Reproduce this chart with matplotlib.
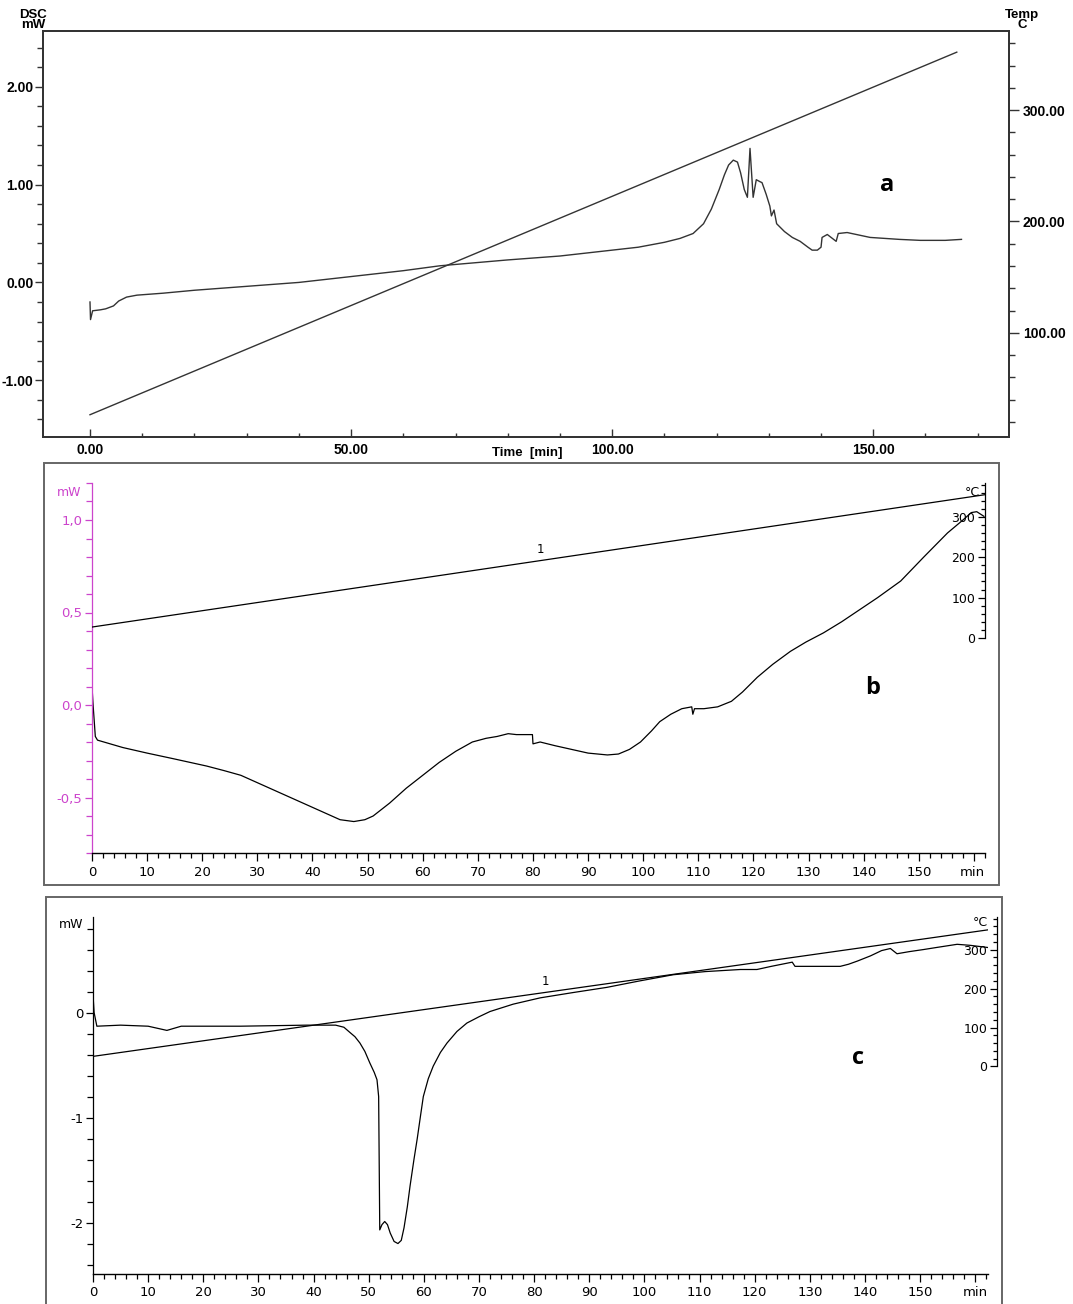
import matplotlib
matplotlib.use('Agg')
import matplotlib.pyplot as plt
import numpy as np
from matplotlib.ticker import MultipleLocator, FixedLocator, FuncFormatter
from matplotlib.patches import Rectangle

# ---- data ----
# panel a (DSC, mW) and temperature ramp (C)
a_time = [0, 0.1, 0.5, 2, 3, 4.5, 5.5, 7, 9, 14, 20, 30, 40, 50, 60, 67, 80,
          90, 100, 105, 110, 113, 115.5, 117.5, 119, 120.5, 121.5, 122.3,
          123.2, 124, 124.6, 125.3, 125.9, 126.4, 127, 127.6, 128.3, 128.7,
          129.5, 130.2, 130.5, 131, 131.5, 133, 134.5, 136, 137.5, 138.3,
          139.3, 140, 140.2, 141.2, 142.9, 143.3, 145, 149.4, 155, 159,
          163.8, 166.9]
a_dsc = [-0.2, -0.38, -0.29, -0.28, -0.27, -0.24, -0.19, -0.15, -0.13,
         -0.11, -0.08, -0.04, 0.0, 0.06, 0.12, 0.17, 0.23, 0.27, 0.33, 0.36,
         0.41, 0.45, 0.5, 0.6, 0.75, 0.95, 1.1, 1.2, 1.25, 1.23, 1.12, 0.95,
         0.87, 1.37, 0.87, 1.05, 1.03, 1.02, 0.9, 0.78, 0.68, 0.74, 0.6,
         0.52, 0.46, 0.42, 0.36, 0.33, 0.33, 0.36, 0.46, 0.49, 0.42, 0.5,
         0.51, 0.46, 0.44, 0.43, 0.43, 0.44]
a_temp_time = [0, 166]
a_temp = [26.5, 352]

# panel b
b_time = [0, 0.2, 0.6, 1, 5.6, 10, 14.7, 20.8, 24, 27, 30, 33, 36, 39, 42,
          45, 47.5, 49.5, 51, 54, 57, 60, 63, 66, 69, 71.5, 73.5, 75.5, 77,
          79.9, 80, 81.3, 84, 87, 90, 93.5, 95.5, 97.5, 99.5, 101.5, 103,
          105, 107, 108.8, 109, 109.3, 111, 113.5, 116, 118, 120.7, 123.5,
          126.7, 129.5, 132.7, 136, 139, 142.5, 146.7, 150.9, 155.2, 158,
          159.5, 160.5, 161.8]
b_dsc = [0.1, 0.0, -0.17, -0.19, -0.23, -0.26, -0.29, -0.33, -0.355, -0.38,
         -0.42, -0.46, -0.5, -0.54, -0.58, -0.62, -0.63, -0.62, -0.6, -0.53,
         -0.45, -0.38, -0.31, -0.25, -0.2, -0.18, -0.17, -0.155, -0.16,
         -0.16, -0.21, -0.2, -0.22, -0.24, -0.26, -0.27, -0.265, -0.24, -0.2,
         -0.14, -0.09, -0.05, -0.02, -0.01, -0.05, -0.02, -0.02, -0.01, 0.02,
         0.07, 0.15, 0.22, 0.29, 0.34, 0.39, 0.45, 0.51, 0.58, 0.67, 0.8,
         0.93, 1.0, 1.04, 1.045, 1.02]
b_temp_time = [0, 162]
b_temp = [27, 355]

# panel c
c_time = [0, 0.2, 0.7, 5, 10, 13.4, 16, 26.7, 38.8, 44, 45.5, 46.6, 47.5,
          48.4, 49.3, 50.2, 51, 51.5, 51.8, 52, 52.4, 52.9, 53.4, 53.9, 54.6,
          55.3, 55.9, 56.4, 57, 57.5, 58.2, 58.8, 59.4, 59.9, 60.8, 61.7, 63,
          64.2, 66, 67.8, 70, 72, 76.2, 81.1, 87, 93.2, 99, 105.2, 111, 117.4,
          120.4, 123, 126.8, 127.3, 131, 135.5, 137, 138.6, 141, 143, 144.6,
          145.8, 148, 150.6, 153, 156.7, 159.1, 162.2]
c_dsc = [0.17, 0.0, -0.13, -0.12, -0.13, -0.17, -0.13, -0.13, -0.12, -0.12,
         -0.14, -0.19, -0.23, -0.29, -0.37, -0.48, -0.57, -0.64, -0.8, -2.07,
         -2.02, -1.99, -2.02, -2.1, -2.18, -2.2, -2.17, -2.05, -1.85, -1.65,
         -1.4, -1.2, -0.98, -0.8, -0.63, -0.51, -0.38, -0.29, -0.18, -0.1,
         -0.04, 0.01, 0.08, 0.14, 0.19, 0.24, 0.3, 0.36, 0.39, 0.41, 0.41,
         0.44, 0.48, 0.44, 0.44, 0.44, 0.46, 0.49, 0.54, 0.59, 0.61, 0.56,
         0.58, 0.6, 0.62, 0.65, 0.64, 0.62]
c_temp_time = [0, 162.3]
c_temp = [26, 351]

W, H = 1073, 1304
fig = plt.figure(figsize=(W / 100, H / 100), dpi=100)


def box(l, t, r, b):
    return fig.add_axes([l / W, 1 - b / H, (r - l) / W, (b - t) / H])


def ftext(x, y, s, **kw):
    return fig.text(x / W, 1 - y / H, s, **kw)


# ================= panel a =================
fa = dict(family='Liberation Sans', weight='bold', size=10)
dark = '#333333'
ax = box(43, 31, 1009, 437)
ax.plot(a_time, a_dsc, color=dark, lw=1.0)
ax.set_xlim(-9, 176)
ax.set_ylim(-1.58, 2.57)
ax.xaxis.set_major_locator(MultipleLocator(50))
ax.xaxis.set_minor_locator(MultipleLocator(10))
ax.yaxis.set_major_locator(MultipleLocator(1))
ax.yaxis.set_minor_locator(MultipleLocator(0.2))
ax.xaxis.set_major_formatter(FuncFormatter(lambda v, p: '%.2f' % v))
ax.yaxis.set_major_formatter(FuncFormatter(lambda v, p: '%.2f' % (v + 0)))
ax.tick_params(axis='x', which='both', direction='in', color=dark, pad=4)
ax.tick_params(axis='x', which='major', length=6, width=1)
ax.tick_params(axis='x', which='minor', length=3, width=1)
ax.tick_params(axis='y', which='both', direction='out', color=dark, pad=1)
ax.tick_params(axis='y', which='major', length=6, width=1)
ax.tick_params(axis='y', which='minor', length=4, width=1)
for s in ax.spines.values():
    s.set_color(dark)
    s.set_linewidth(1.3)
for lbl in ax.get_xticklabels() + ax.get_yticklabels():
    lbl.set_fontproperties(fa)

ax2 = ax.twinx()
ax2.plot(a_temp_time, a_temp, color=dark, lw=1.0)
ax2.set_ylim(6.5, 371)
ax2.yaxis.set_major_locator(MultipleLocator(100))
ax2.yaxis.set_minor_locator(MultipleLocator(20))
ax2.yaxis.set_major_formatter(FuncFormatter(lambda v, p: '%.2f' % v))
ax2.tick_params(axis='y', which='both', direction='out', color=dark, pad=3)
ax2.tick_params(axis='y', which='major', length=7, width=1)
ax2.tick_params(axis='y', which='minor', length=4, width=1)
for s in ax2.spines.values():
    s.set_color(dark)
    s.set_linewidth(1.3)
for lbl in ax2.get_yticklabels():
    lbl.set_fontproperties(fa)

ftext(33, 20, 'DSC\nmW', ha='center', va='center', linespacing=0.85,
      family='Liberation Sans', weight='bold', size=9.5)
ftext(1022, 20, 'Temp\nC', ha='center', va='center', linespacing=0.85,
      family='Liberation Sans', weight='bold', size=9.5)
ftext(527, 453, 'Time  [min]', ha='center', va='center',
      family='Liberation Sans', weight='bold', size=9.5)
ftext(887, 185, 'a', ha='center', va='center', family='Open Sans',
      weight='bold', size=17)

# ================= panels b and c =================
magenta = '#CC44CC'
fb = dict(family='DejaVu Sans', size=9)
frame = '#666666'


def dsc_panel(l, t, r, b, tt, dd, temp_t, temp, xmax, ylim, spine_col,
              yticks, yminor, fmt, label_t, spine_out):
    axp = box(l, t, r, b)
    axp.plot(tt, dd, color='black', lw=0.9)
    axp.set_xlim(0, xmax)
    axp.set_ylim(*ylim)
    axp.spines['top'].set_visible(False)
    axp.spines['right'].set_visible(False)
    axp.spines['left'].set_color(spine_col)
    axp.spines['left'].set_linewidth(0.9)
    axp.spines['bottom'].set_linewidth(1.0)
    axp.xaxis.set_major_locator(MultipleLocator(10))
    axp.xaxis.set_minor_locator(MultipleLocator(2))
    axp.xaxis.set_major_formatter(FuncFormatter(
        lambda v, p: '' if v > 155 else '%d' % v))
    axp.yaxis.set_major_locator(FixedLocator(yticks))
    axp.yaxis.set_minor_locator(MultipleLocator(yminor))
    axp.yaxis.set_major_formatter(FuncFormatter(fmt))
    axp.tick_params(axis='x', which='major', direction='out', length=6,
                    width=0.9, pad=3)
    axp.tick_params(axis='x', which='minor', direction='out', length=3.5,
                    width=0.9)
    axp.tick_params(axis='y', which='major', direction='out', length=5,
                    width=0.9, color=spine_col, labelcolor=spine_col, pad=2)
    axp.tick_params(axis='y', which='minor', direction='out', length=4,
                    width=0.9, color=spine_col)
    for lbl in axp.get_xticklabels() + axp.get_yticklabels():
        lbl.set_family('DejaVu Sans')
        lbl.set_size(9.5)

    tw = axp.twinx()
    tw.plot(temp_t, temp, color='black', lw=0.9)
    tw.set_ylim(-533, 384)
    for k in ['top', 'bottom', 'left']:
        tw.spines[k].set_visible(False)
    tw.spines['right'].set_bounds(0, 384)
    tw.spines['right'].set_linewidth(0.9)
    if spine_out:
        tw.spines['right'].set_position(('outward', spine_out))
    tw.yaxis.set_major_locator(FixedLocator([0, 100, 200, 300]))
    tw.yaxis.set_minor_locator(FixedLocator(list(range(0, 384, 20))))
    tw.tick_params(axis='y', which='major', direction='in', length=5,
                   width=0.9, pad=-7)
    tw.tick_params(axis='y', which='minor', direction='in', length=3,
                   width=0.9)
    for lbl in tw.get_yticklabels():
        lbl.set_horizontalalignment('right')
        lbl.set_family('DejaVu Sans')
        lbl.set_size(9)
    tw.annotate('1', (label_t, np.interp(label_t, temp_t, temp)),
                xytext=(0, 3), textcoords='offset points', ha='center',
                va='bottom', fontsize=8.5, family='DejaVu Sans')
    return axp, tw


# panel b
fig.patches.append(Rectangle((44 / W, 1 - 885 / H), (999 - 44) / W,
                             (885 - 463) / H, transform=fig.transFigure,
                             fill=False, edgecolor=frame, lw=1.4))
dsc_panel(92, 483, 985, 853, b_time, b_dsc, b_temp_time, b_temp, 162,
          (-0.8, 1.2), magenta, [-0.5, 0, 0.5, 1.0], 0.1,
          lambda v, p: ('%.1f' % (v + 0)).replace('.', ','), 81.3, 0)
ftext(81, 492, 'mW', ha='right', va='center', color=magenta, **fb)
ftext(980, 492, '°C', ha='right', va='center', **fb)
ftext(985, 872, 'min', ha='right', va='center', family='DejaVu Sans',
      size=9.5)
ftext(873, 688, 'b', ha='center', va='center', family='Open Sans',
      weight='bold', size=17)

# panel c
fig.patches.append(Rectangle((46 / W, 1 - 1320 / H), (1002 - 46) / W,
                             (1320 - 897) / H, transform=fig.transFigure,
                             fill=False, edgecolor=frame, lw=1.4))
dsc_panel(93, 917, 988, 1274, c_time, c_dsc, c_temp_time, c_temp, 162.3,
          (-2.49, 0.91), 'black', [-2, -1, 0], 0.2,
          lambda v, p: '%d' % round(v), 82, 6.5)
ftext(83, 925, 'mW', ha='right', va='center', **fb)
ftext(988, 923, '°C', ha='right', va='center', **fb)
ftext(988, 1293, 'min', ha='right', va='center', family='DejaVu Sans',
      size=9.5)
ftext(858, 1058, 'c', ha='center', va='center', family='Open Sans',
      weight='bold', size=17)

fig.savefig('out.png', dpi=100)
